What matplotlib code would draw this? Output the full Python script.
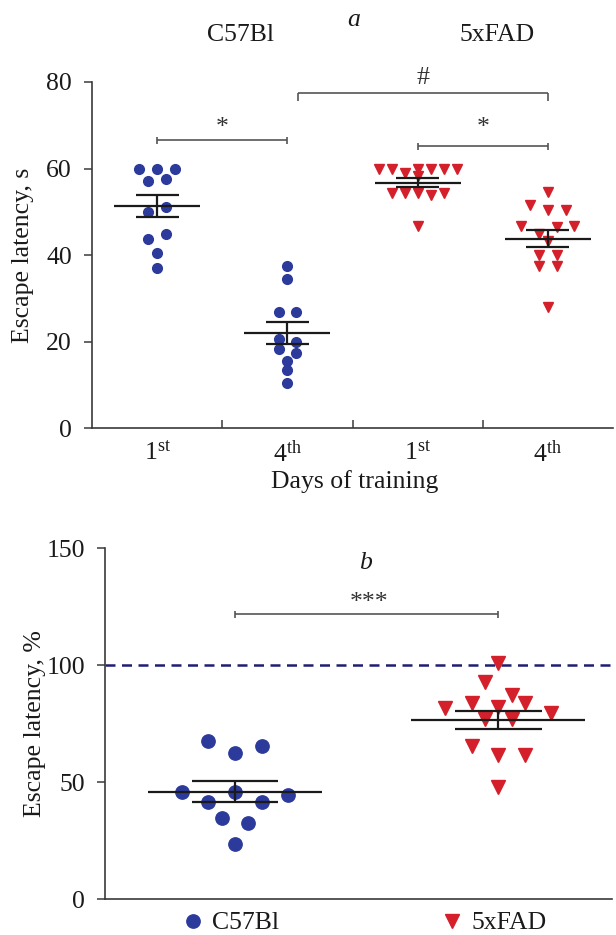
import numpy as np
import matplotlib
matplotlib.use('Agg')
import matplotlib.pyplot as plt
from matplotlib.lines import Line2D

plt.rcParams['font.family'] = ['Liberation Serif', 'DejaVu Serif']
plt.rcParams['mathtext.fontset'] = 'custom'
plt.rcParams['mathtext.rm'] = 'Liberation Serif'
plt.rcParams['mathtext.it'] = 'Liberation Serif:italic'

# ---------------- data ----------------
strains = ['C57Bl', '5xFAD']
day_labels = [r'1$^{\mathrm{st}}$', r'4$^{\mathrm{th}}$', r'1$^{\mathrm{st}}$', r'4$^{\mathrm{th}}$']

c57_day1 = [60, 60, 60, 57.1, 57.6, 50.0, 51.1, 43.8, 45.0, 40.6, 37.0]
c57_day4 = [37.6, 34.6, 26.9, 26.9, 20.6, 19.9, 18.4, 17.5, 15.5, 13.4, 10.5]
fad_day1 = [60, 60, 59.0, 59.8, 60, 60, 60, 58.4, 54.4, 54.4, 54.4, 53.8, 54.4, 46.7]
fad_day4 = [54.6, 51.5, 50.4, 50.4, 46.8, 44.9, 46.5, 46.8, 43.2, 40.1, 40.1, 37.6, 37.6, 28.1]
means_a = [51.3, 22.0, 56.7, 43.8]
sems_a = [2.55, 2.6, 1.05, 1.9]

c57_pct = [67.8, 62.7, 65.6, 45.7, 41.6, 45.7, 41.6, 44.7, 34.6, 32.7, 23.6]
fad_pct = [101.1, 93.0, 87.3, 81.6, 83.8, 82.3, 83.8, 79.5, 76.9, 76.9, 65.5, 61.7, 61.7, 48.1]
means_b = [46.0, 76.6]
sems_b = [4.35, 3.85]
reference_pct = 100

# ---------------- style ----------------
BLUE = '#2b3a9b'
RED = '#d3202a'
DASH = '#1f1f72'
LINE = '#1a1a1a'
BR = '#555555'
TXT = '#1a1a1a'
FS = 18.5


def swarm(values, step, thr, maxrow=7, maxwidth=0.6):
    v = np.asarray(values, float)
    order = np.argsort(-v, kind='stable')
    rows, cur, top = [], [], None
    for i in order:
        if cur and (top - v[i] < thr) and len(cur) < maxrow:
            cur.append(i)
        else:
            if cur:
                rows.append(cur)
            cur, top = [i], v[i]
    rows.append(cur)
    nmax = max(len(r) for r in rows)
    s = step if nmax < 2 else min(step, maxwidth / (nmax - 1))
    off = np.zeros(len(v))
    for r in rows:
        r = sorted(r)
        for k, i in enumerate(r):
            off[i] = (k - (len(r) - 1) / 2) * s
    return off


def mean_sem(ax, x, m, s, hw=0.33, cw=0.165, lw=1.6):
    ax.hlines(m, x - hw, x + hw, color=LINE, lw=lw, zorder=5)
    ax.hlines([m - s, m + s], x - cw, x + cw, color=LINE, lw=lw, zorder=5)
    ax.vlines(x, m - s, m + s, color=LINE, lw=lw, zorder=5)


def style_axes(ax):
    for sp in ['top', 'right']:
        ax.spines[sp].set_visible(False)
    for sp in ['left', 'bottom']:
        ax.spines[sp].set_color('#3a3a3a')
        ax.spines[sp].set_linewidth(1.2)
    ax.tick_params(axis='y', direction='out', length=6, width=1.1, pad=8.5,
                   labelsize=FS, colors='#3a3a3a', labelcolor=TXT)


W, H = 616, 935
fig = plt.figure(figsize=(W / 100, H / 100), dpi=100)

# ---------------- panel a ----------------
axa = fig.add_axes([92 / W, 1 - 428.3 / H, 521 / W, 346.3 / H])
style_axes(axa)
axa.set_xlim(-0.5, 3.5)
axa.set_ylim(0, 80)
axa.set_yticks([0, 20, 40, 60, 80])
axa.set_xticks(range(4))
axa.set_xticklabels(day_labels, fontsize=FS, color=TXT)
axa.tick_params(axis='x', which='major', length=0, pad=9)
axa.set_xticks([0.5, 1.5, 2.5], minor=True)
axa.tick_params(axis='x', which='minor', direction='in', length=6, width=1.1, colors='#3a3a3a')

series_a = [c57_day1, c57_day4, fad_day1, fad_day4]
markers_a = ['o', 'o', 'v', 'v']
colors_a = [BLUE, BLUE, RED, RED]
for k, vals in enumerate(series_a):
    off = swarm(vals, step=0.136, thr=2.0, maxrow=7, maxwidth=0.6)
    axa.plot(k + off, vals, ls='none', marker=markers_a[k], ms=7.0,
             color=colors_a[k], mec=colors_a[k], zorder=3, clip_on=False)
    mean_sem(axa, k, means_a[k], sems_a[k])


def bracket(ax, x1, x2, y, cap, down_only=False, lw=1.2):
    ax.plot([x1, x2], [y, y], color=BR, lw=lw, clip_on=False, solid_capstyle='butt')
    if down_only:
        ax.vlines([x1, x2], y - cap, y, color=BR, lw=lw, clip_on=False)
    else:
        ax.vlines([x1, x2], y - cap, y + cap, color=BR, lw=lw, clip_on=False)


bracket(axa, 0, 1, 66.5, 0.9)
axa.text(0.5, 67.9, '*', ha='center', va='baseline', fontsize=FS, color='#333333')
bracket(axa, 2, 3, 65.1, 0.9)
axa.text(2.5, 67.9, '*', ha='center', va='baseline', fontsize=FS, color='#333333')
bracket(axa, 1.08, 3.0, 77.5, 1.9, down_only=True)
axa.text(2.04, 79.5, '#', ha='center', va='baseline', fontsize=FS, color='#333333')

fig.text(354 / W, 1 - 20 / H, 'a', style='italic', ha='center', va='center', fontsize=FS, color=TXT)
fig.text(241 / W, 1 - 35 / H, strains[0], ha='center', va='center', fontsize=FS, color=TXT)
fig.text(497.5 / W, 1 - 35 / H, strains[1], ha='center', va='center', fontsize=FS, color=TXT)
fig.text(355 / W, 1 - 482 / H, 'Days of training', ha='center', va='center', fontsize=FS, color=TXT)
fig.text(23 / W, 1 - 255 / H, 'Escape latency, s', rotation=90, ha='center', va='center',
         fontsize=FS, color=TXT)

# ---------------- panel b ----------------
axb = fig.add_axes([105.3 / W, 1 - 899.3 / H, 506.7 / W, 351 / H])
style_axes(axb)
axb.set_xlim(-0.4926, 1.4318)
axb.set_ylim(0, 150)
axb.set_yticks([0, 50, 100, 150])
axb.set_xticks([])

axb.axhline(reference_pct, color=DASH, lw=1.8, ls=(0, (4, 2.6)), zorder=2)

series_b = [c57_pct, fad_pct]
markers_b = ['o', 'v']
colors_b = [BLUE, RED]
for k, vals in enumerate(series_b):
    off = swarm(vals, step=0.101, thr=6.0, maxrow=7, maxwidth=0.6)
    axb.plot(k + off, vals, ls='none', marker=markers_b[k], ms=9.6,
             color=colors_b[k], mec=colors_b[k], zorder=3, clip_on=False)
    mean_sem(axb, k, means_b[k], sems_b[k])

bracket(axb, 0, 1, 121.8, 1.5)
axb.text(0.51, 124.0, '***', ha='center', va='baseline', fontsize=FS, color='#333333')

fig.text(365 / W, 1 - 563 / H, 'b', style='italic', ha='center', va='center', fontsize=FS, color=TXT)
fig.text(35 / W, 1 - 724 / H, 'Escape latency, %', rotation=90, ha='center', va='center',
         fontsize=FS, color=TXT)

handles = [Line2D([], [], ls='none', marker='o', ms=9.6, color=BLUE, mec=BLUE),
           Line2D([], [], ls='none', marker='v', ms=9.6, color=RED, mec=RED)]
fig.legend(handles, strains, loc='center', bbox_to_anchor=(364 / W, 1 - 923 / H),
           ncol=2, frameon=False, fontsize=FS, handlelength=0.9, handletextpad=0.3,
           columnspacing=6.3, borderpad=0, labelcolor=TXT)

fig.savefig('out.png', dpi=100)
